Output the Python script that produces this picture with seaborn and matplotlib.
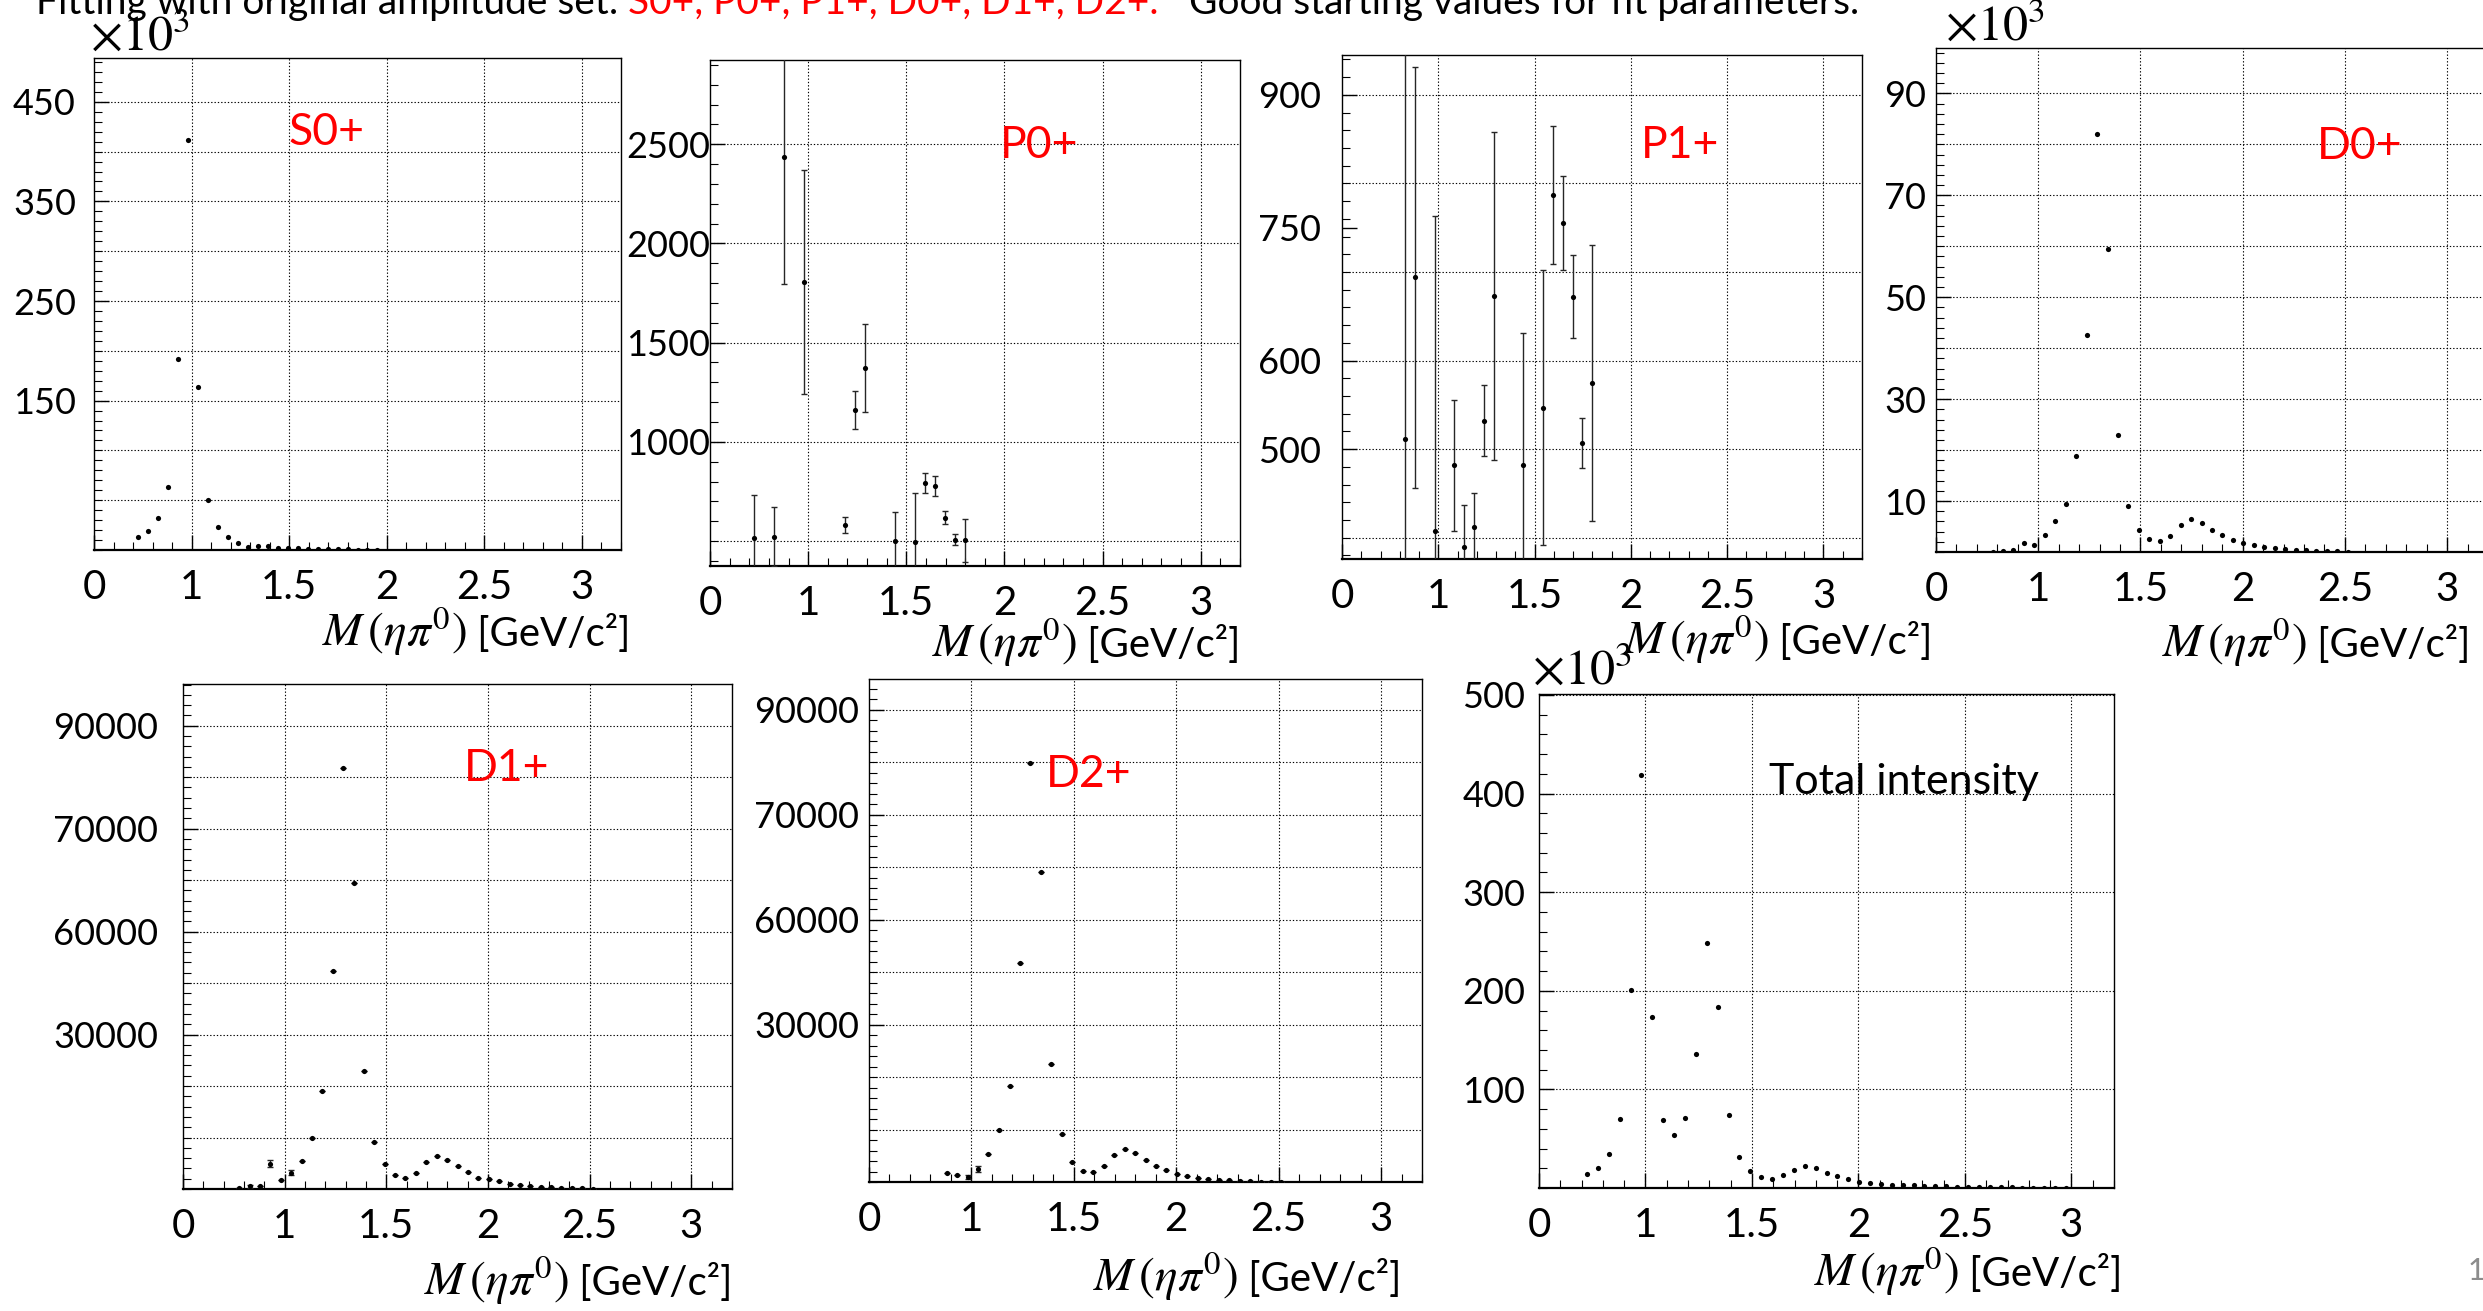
import numpy as np
import pandas as pd
import matplotlib
matplotlib.use("Agg")
import matplotlib.pyplot as plt
import seaborn as sns
from matplotlib.ticker import MultipleLocator

# bin centres of M(eta pi0), GeV/c^2 (45 bins)
BIN_CENTERS = [0.726, 0.777, 0.828, 0.879, 0.930, 0.981, 1.032, 1.083, 1.134, 1.186,
               1.237, 1.288, 1.339, 1.390, 1.441, 1.492, 1.543, 1.594, 1.646, 1.697,
               1.748, 1.799, 1.850, 1.901, 1.952, 2.003, 2.054, 2.106, 2.157, 2.208,
               2.259, 2.310, 2.361, 2.412, 2.463, 2.514, 2.566, 2.617, 2.668, 2.719,
               2.770, 2.821, 2.872, 2.923, 2.974]

# S0+ (x10^3), starts at bin 0
S0_START = 0
S0_VALUES = [12.7, 18.7, 31.7, 63.1, 191.7, 411.9, 163.9, 50.4, 23.0, 13.1, 6.7, 3.2, 4.0,
             3.6, 2.4, 2.4, 1.6, 1.2, 0.8, 0.8, 0.7, 0.6, 0.4, 0.4, 0.4]

# P0+ (only bins inside the visible range)
P0_BINS = [0, 2, 3, 5, 9, 10, 11, 14, 16, 17, 18, 19, 20, 21]
P0_VALUES = [514, 522, 2436, 1805, 580, 1159, 1372, 500, 494, 791, 777, 618, 506, 504]
P0_ERRORS = [219, 148, 639, 566, 40, 96, 224, 146, 246, 50, 50, 32, 28, 108]

# P1+
P1_BINS = [2, 3, 5, 7, 8, 9, 10, 11, 14, 16, 17, 18, 19, 20, 21]
P1_VALUES = [511, 694, 408, 482, 390, 412, 532, 673, 482, 547, 787, 755, 672, 507, 575]
P1_ERRORS = [600, 238, 355, 74, 47, 39, 40, 185, 149, 155, 78, 53, 47, 28, 156]

# D0+ (x10^3), starts at bin 1
D0_START = 1
D0_VALUES = [0.0, 0.1, 0.4, 1.7, 1.4, 3.3, 6.0, 9.4, 18.8, 42.6, 82.1, 59.4, 23.0, 9.1, 4.4,
             2.5, 2.1, 3.1, 5.3, 6.5, 5.6, 4.4, 3.4, 2.4, 1.7, 1.3, 1.0, 0.8, 0.6, 0.4,
             0.3, 0.2, 0.2, 0.1, 0.0]

# D1+, starts at bin 1
D1_START = 1
D1_VALUES = [160, 500, 600, 4900, 1700, 3200, 5400, 10000, 19000, 42300, 81700, 59400,
             23000, 9100, 4800, 2700, 2100, 3100, 5200, 6500, 5700, 4400, 3300, 2200,
             1900, 1500, 1000, 800, 600, 400, 300, 200, 160, 160, 80]
D1_ERRORS = [0, 300, 0, 700, 0, 500, 0, 0, 0, 0, 0, 0, 0, 0, 0, 0, 0, 0, 0, 0, 0, 0, 0,
             0, 0, 0, 0, 0, 0, 0, 0, 0, 0, 0, 0]

# D2+, starts at bin 3
D2_START = 3
D2_VALUES = [1700, 1300, 900, 2500, 5400, 9900, 18300, 41700, 79800, 59100, 22500, 9200,
             3800, 2100, 2000, 3000, 5200, 6200, 5500, 4200, 3000, 2200, 1600, 1100, 800,
             550, 400, 300, 240, 160, 80, 0, 0]
D2_ERRORS = [0, 0, 400, 500, 0, 0, 0, 0, 0, 0, 0, 0, 0, 0, 0, 0, 0, 0, 0, 0, 0, 0, 0, 0,
             0, 0, 0, 0, 0, 0, 0, 0, 0]

# total intensity (x10^3), all bins
TOTAL_VALUES = [13.9, 19.9, 34.6, 70.1, 200.9, 418.6, 173.6, 69.3, 54.1, 71.4, 135.9,
                248.5, 183.1, 73.6, 31.6, 16.9, 10.8, 9.5, 13.0, 18.6, 22.1, 20.3, 15.2,
                11.7, 8.7, 6.5, 5.2, 4.3, 3.5, 3.0, 2.6, 2.2, 2.2, 1.7, 1.3, 1.3, 1.3,
                0.9, 0.9, 0.9, 0.4, 0.4, 0.4, 0.4, 0.4]

X_TICKS = [0.5, 1, 1.5, 2, 2.5, 3]
X_TICK_LABELS = ["0", "1", "1.5", "2", "2.5", "3"]

W, H = 2483, 1311

sns.set_theme(style="ticks")
plt.rcParams["font.family"] = ["Lato", "DejaVu Sans"]
plt.rcParams["mathtext.fontset"] = "stix"

fig = plt.figure(figsize=(W / 100, H / 100), dpi=100)
fig.patch.set_facecolor("white")


def px_axes(box):
    left, right, top, bottom = box
    return fig.add_axes([left / W, 1 - bottom / H, (right - left) / W, (bottom - top) / H])


def draw_panel(box, x, y, err, ylim, grid_step, minor_step, yticks, ylabels, ypad):
    ax = px_axes(box)
    ax.set_facecolor("white")

    for g in np.arange(grid_step, ylim[1], grid_step):
        if g > ylim[0]:
            ax.axhline(g, color="black", lw=0.8, ls=(0, (1.2, 1.8)), zorder=1)
    for g in X_TICKS[1:]:
        ax.axvline(g, color="black", lw=0.8, ls=(0, (1.2, 1.8)), zorder=1)

    if err is not None:
        ax.errorbar(x, y, yerr=err, fmt="none", ecolor="0.15", elinewidth=1.0,
                    capsize=2.5, capthick=1.0, zorder=3)
    df = pd.DataFrame({"mass": x, "value": y})
    sns.scatterplot(data=df, x="mass", y="value", ax=ax, color="black", s=14,
                    linewidth=0, zorder=4, legend=False)

    ax.set_xlim(0.5, 3.2)
    ax.set_ylim(*ylim)
    ax.set_xlabel("")
    ax.set_ylabel("")

    ax.set_xticks(X_TICKS, labels=X_TICK_LABELS)
    ax.xaxis.set_minor_locator(MultipleLocator(0.1))
    ax.set_yticks(yticks, labels=ylabels)
    ax.yaxis.set_minor_locator(MultipleLocator(minor_step))

    ax.tick_params(axis="both", which="both", direction="in", top=False, right=False,
                   color="black", labelcolor="black")
    ax.tick_params(axis="both", which="major", length=11, width=1.0)
    ax.tick_params(axis="both", which="minor", length=6, width=0.8)
    ax.tick_params(axis="x", which="major", pad=14, labelsize=29)
    ax.tick_params(axis="y", which="major", pad=ypad, labelsize=26)

    for side in ["left", "right", "top"]:
        ax.spines[side].set_linewidth(1.0)
        ax.spines[side].set_color("black")
    ax.spines["bottom"].set_linewidth(1.6)
    ax.spines["bottom"].set_color("black")
    return ax


def bins_from(start, n):
    return BIN_CENTERS[start:start + n]


# top row
draw_panel((94, 621, 58, 550), bins_from(S0_START, len(S0_VALUES)), S0_VALUES, None,
           (0, 494), 50, 10, [150, 250, 350, 450], ["150", "250", "350", "450"], 13)
draw_panel((710, 1240, 60, 566), [BIN_CENTERS[i] for i in P0_BINS], P0_VALUES, P0_ERRORS,
           (374, 2925), 500, 100, [1000, 1500, 2000, 2500], ["1000", "1500", "2000", "2500"], 0)
draw_panel((1342, 1862, 55, 559), [BIN_CENTERS[i] for i in P1_BINS], P1_VALUES, P1_ERRORS,
           (376, 945), 100, 20, [500, 600, 750, 900], ["500", "600", "750", "900"], 15)
draw_panel((1936, 2488, 48, 552), bins_from(D0_START, len(D0_VALUES)), D0_VALUES, None,
           (0, 98.9), 10, 2, [10, 30, 50, 70, 90], ["10", "30", "50", "70", "90"], 7)

# bottom row
d_ticks = [30000, 50000, 70000, 90000]
d_labels = ["30000", "60000", "70000", "90000"]
draw_panel((183, 732, 684, 1189), bins_from(D1_START, len(D1_VALUES)), D1_VALUES, D1_ERRORS,
           (0, 98100), 10000, 2000, d_ticks, d_labels, 18)
draw_panel((869, 1422, 679, 1182), bins_from(D2_START, len(D2_VALUES)), D2_VALUES, D2_ERRORS,
           (0, 95900), 10000, 2000, d_ticks, d_labels, 7)
draw_panel((1539, 2114, 694, 1188), BIN_CENTERS, TOTAL_VALUES, None,
           (0, 501), 100, 20, [100, 200, 300, 400, 500], ["100", "200", "300", "400", "500"], 10)


def ftext(x, y, s, **kw):
    return fig.text(x / W, 1 - y / H, s, **kw)


renderer = fig.canvas.get_renderer()

# panel names
for name, cx, base in [("S0+", 326, 145), ("P0+", 1039, 158), ("P1+", 1680, 158),
                       ("D0+", 2360, 159), ("D1+", 507, 781), ("D2+", 1089, 787)]:
    ftext(cx, base, name, color="red", fontsize=32, ha="center", va="baseline")
ftext(1904, 794, "Total intensity", color="black", fontsize=31, ha="center", va="baseline")

# exponent markers
for lx, base in [(90, 50), (1945, 40), (1532, 684)]:
    ftext(lx, base, r"$\times10^{3}$", color="black", fontsize=36, ha="left", va="baseline")

# axis titles: math part a little bigger than the unit part, right-aligned at panel edge
for rx, base in [(630, 646), (1240, 657), (1932, 654), (2470, 657),
                 (732, 1295), (1401, 1291), (2122, 1286)]:
    unit = ftext(rx, base, " [GeV/c²]", color="black", fontsize=29, ha="right", va="baseline")
    ux0 = unit.get_window_extent(renderer).x0
    fig.text(ux0 / W, 1 - base / H, r"$M\,(\eta\pi^{0})$", color="black", fontsize=34,
             ha="right", va="baseline")

# slide header, cut at the top edge
x0 = 36
for part, col in [("Fitting with original amplitude set: ", "black"),
                  ("S0+, P0+, P1+, D0+, D1+, D2+.", "red"),
                  ("   Good starting values for fit parameters.", "black")]:
    t = ftext(x0, 14, part, color=col, fontsize=28, ha="left", va="baseline")
    x0 = t.get_window_extent(renderer).x1

# page number
ftext(2468, 1280, "1", color="0.55", fontsize=22, ha="left", va="baseline")

fig.savefig("out.png", dpi=100, facecolor="white")
